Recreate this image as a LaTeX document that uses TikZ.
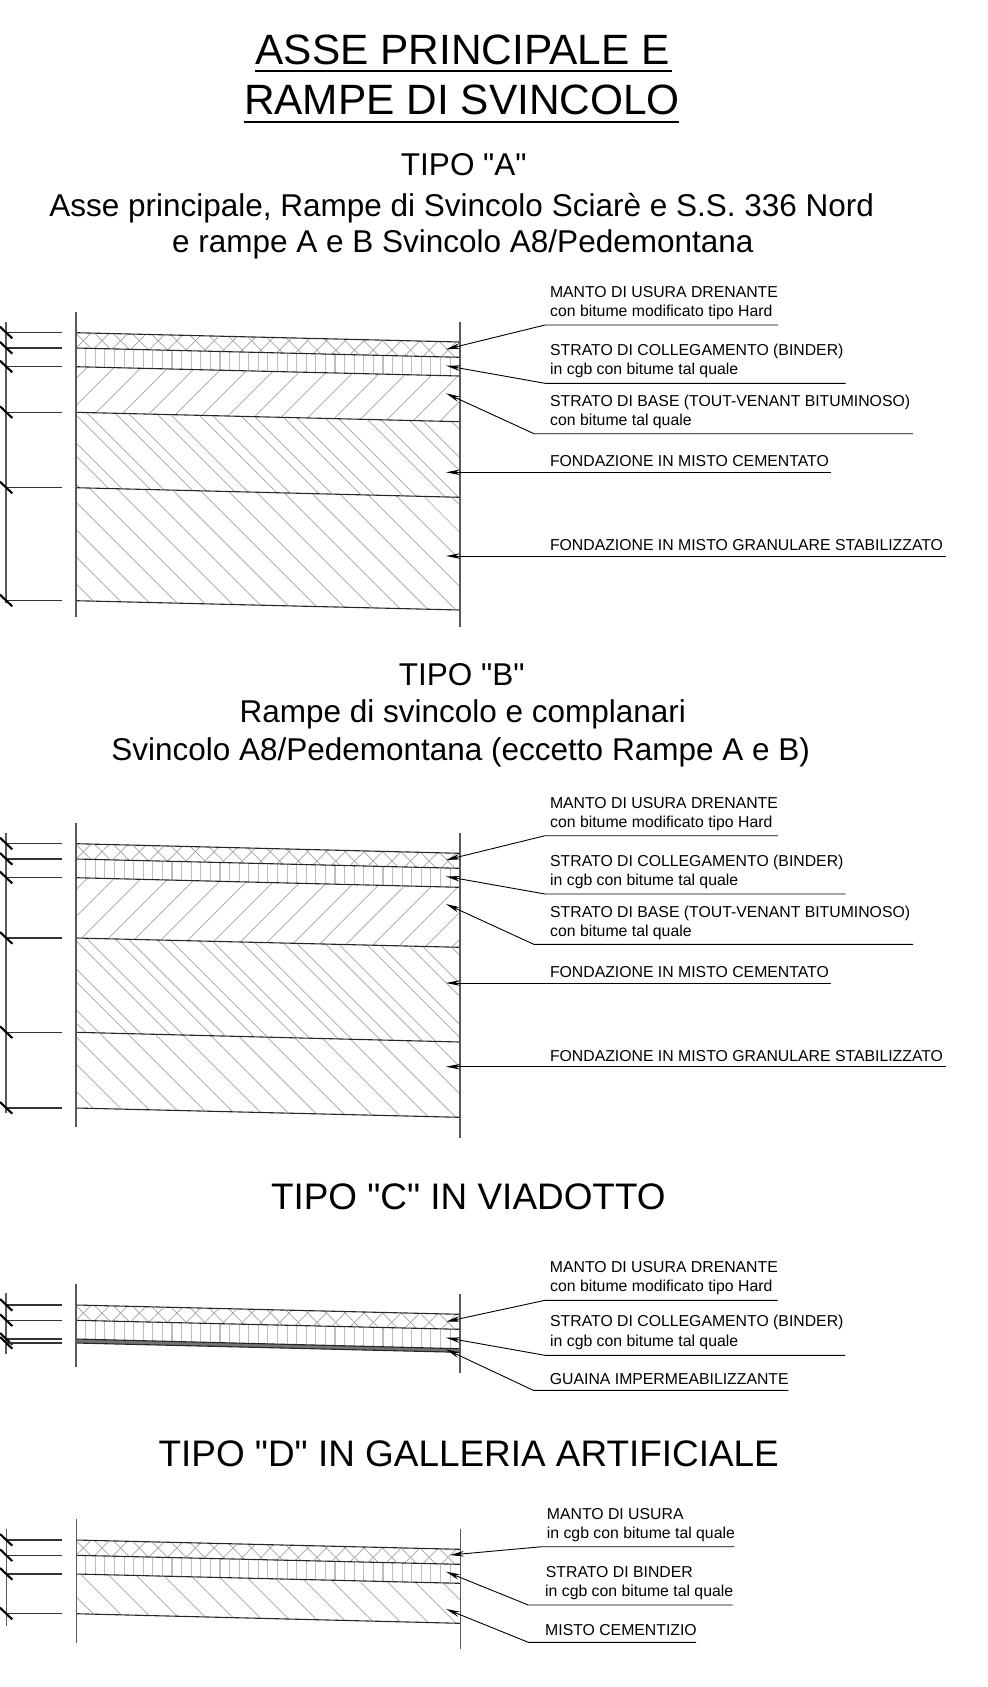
\documentclass[tikz,border=0pt]{standalone}
\usepackage{fontspec}
\defaultfontfeatures[\rmfamily]{}
\setmainfont{Liberation Sans}
\usetikzlibrary{calc}
\usetikzlibrary{arrows.meta}

\tikzset{
  wallline/.style={line width=1.3pt,black!65},
  stratumline/.style={line width=1.1pt,black!85},
  hatchline/.style={line width=0.7pt,black!36},
  vertline/.style={line width=1.1pt,black!26},
  dimline/.style={line width=1.2pt,black!80},
  dimtick/.style={line width=2.1pt,black},
  leaderline/.style={line width=0.9pt,black,{Stealth[length=14pt,width=5.5pt]}-},
  underline/.style={line width=1pt,black},
  titlelabel/.style={inner sep=0pt,anchor=base,font=\fontsize{42.4}{44}\selectfont},
  headlabel/.style={inner sep=0pt,anchor=base,font=\fontsize{31.5}{34}\selectfont},
  typelabel/.style={inner sep=0pt,anchor=base,font=\fontsize{36.9}{40}\selectfont},
  notelabel/.style={inner sep=0pt,anchor=base west,font=\fontsize{15.8}{18}\selectfont}
}

% Crossed hatch of the wearing course
\newcommand{\hatchcross}[4]{%
  \begin{scope}
    \clip (76,#1) -- (460,#3) -- (460,#4) -- (76,#2) -- cycle;
    \foreach \k in {-1,...,22} {
      \draw [hatchline] (76,#1+0.7-18.7*\k) -- (460,#1+384.7-18.7*\k);
      \draw [hatchline] (76,#1+15.3+18.7*\k) -- (460,#1-368.7+18.7*\k);
    }
  \end{scope}}
% Vertical hatch of the binder course
\newcommand{\hatchvert}[4]{%
  \begin{scope}
    \clip (76,#1) -- (460,#3) -- (460,#4) -- (76,#2) -- cycle;
    \foreach \k in {0,...,38}
      \draw [vertline] (85.7+9.59*\k,#1-2) -- (85.7+9.59*\k,#4+2);
  \end{scope}}
% Rising hatch of the base course
\newcommand{\hatchup}[4]{%
  \begin{scope}
    \clip (76,#1) -- (460,#3) -- (460,#4) -- (76,#2) -- cycle;
    \foreach \k in {0,...,17}
      \draw [hatchline] (76,#1+11.8+27.1*\k) -- (460,#1-372.2+27.1*\k);
  \end{scope}}
% Falling hatch in pairs of the cement foundation
\newcommand{\hatchtwin}[4]{%
  \begin{scope}
    \clip (76,#1) -- (460,#3) -- (460,#4) -- (76,#2) -- cycle;
    \foreach \k in {-3,...,9} {
      \draw [hatchline] (76,#1-10.5-41*\k) -- (460,#1+373.5-41*\k);
      \draw [hatchline] (76,#1-38.5-41*\k) -- (460,#1+345.5-41*\k);
    }
  \end{scope}}
% Falling hatch, measured from the lower left corner
\newcommand{\hatchdown}[4]{%
  \begin{scope}
    \clip (76,#1) -- (460,#3) -- (460,#4) -- (76,#2) -- cycle;
    \foreach \k in {0,...,18}
      \draw [hatchline] (76,#2-17-27.2*\k) -- (460,#2+367-27.2*\k);
  \end{scope}}
% Dimension rows on the left
\newcommand{\dimrows}[2]{%
  \foreach \dimy [count=\i] in {#2} {
    \coordinate (#1dimstart\i) at (6,\dimy);
    \coordinate (#1dimend\i) at (61.7,\dimy);
    \draw [dimline] (#1dimstart\i) -- (#1dimend\i);
    \draw [dimtick] ($(#1dimstart\i)+(-6,-6)$) -- ($(#1dimstart\i)+(6.3,5.7)$);
  }}
% The five notes of the types A and B
\newcommand{\fivenotes}[2]{%
  \begin{scope}[shift={(0,#2)}]
    \coordinate (#1manto tip) at (446,349.3);
    \coordinate (#1manto kink) at (545,325);
    \coordinate (#1manto end) at (778,325);
    \draw [leaderline] (#1manto tip) -- (#1manto kink) -- (#1manto end);
    \node [notelabel] (#1manto) at (549.8,297.3) {MANTO DI USURA DRENANTE};
    \node [notelabel] (#1mantob) at (550,316.6) {con bitume modificato tipo Hard};
    \coordinate (#1binder tip) at (446,365.7);
    \coordinate (#1binder kink) at (545,383.3);
    \coordinate (#1binder end) at (845.5,383.3);
    \draw [leaderline] (#1binder tip) -- (#1binder kink) -- (#1binder end);
    \node [notelabel] (#1binder) at (550,355.7) {STRATO DI COLLEGAMENTO (BINDER)};
    \node [notelabel] (#1binderb) at (550,374.6) {in cgb con bitume tal quale};
    \coordinate (#1base tip) at (446,393.3);
    \coordinate (#1base kink) at (534,433.7);
    \coordinate (#1base end) at (913,433.7);
    \draw [leaderline] (#1base tip) -- (#1base kink) -- (#1base end);
    \node [notelabel] (#1base) at (550,406.3) {STRATO DI BASE (TOUT-VENANT BITUMINOSO)};
    \node [notelabel] (#1baseb) at (550,425.3) {con bitume tal quale};
    \coordinate (#1cem tip) at (446,472.3);
    \coordinate (#1cem end) at (831,472.3);
    \draw [leaderline] (#1cem tip) -- (#1cem end);
    \node [notelabel] (#1cem) at (549.8,466.3) {FONDAZIONE IN MISTO CEMENTATO};
    \coordinate (#1gran tip) at (446,556);
    \coordinate (#1gran end) at (946,556);
    \draw [leaderline] (#1gran tip) -- (#1gran end);
    \node [notelabel] (#1gran) at (549.8,550.3) {FONDAZIONE IN MISTO GRANULARE STABILIZZATO};
  \end{scope}}

\begin{document}
\begin{tikzpicture}[x=1pt,y=-1pt]
\useasboundingbox (0,0) rectangle (988,1687);

% Titles
\node [titlelabel] (title1) at (462.6,64.3) {ASSE PRINCIPALE E};
\node [titlelabel] (title2) at (462,114) {RAMPE DI SVINCOLO};
\coordinate (title1start) at (255,71.3);
\coordinate (title1end) at (671.7,71.3);
\coordinate (title2start) at (243.7,122.3);
\coordinate (title2end) at (679.3,122.3);
\draw [line width=2pt] (title1start) -- (title1end);
\draw [line width=2pt] (title2start) -- (title2end);

% Type A
\node [headlabel] (tipoa) at (463.8,175) {TIPO "A"};
\node [headlabel] (tipoa2) at (461.7,216) {Asse principale, Rampe di Svincolo Sciarè e S.S. 336 Nord};
\node [headlabel] (tipoa3) at (462.8,252) {e rampe A e B Svincolo A8/Pedemontana};

\hatchcross{332.7}{348}{342}{357.3}
\hatchvert{348}{366.7}{357.3}{376}
\hatchup{366.7}{412.3}{376}{421.7}
\hatchtwin{412.3}{487.7}{421.7}{497.3}
\hatchdown{487.7}{600.7}{497.3}{610}

% Layer lines A
\draw [stratumline] (76,332.7) -- (460,342);
\draw [stratumline] (76,348) -- (460,357.3);
\draw [stratumline] (76,366.7) -- (460,376);
\draw [stratumline] (76,412.3) -- (460,421.7);
\draw [stratumline] (76,487.7) -- (460,497.3);
\draw [stratumline] (76,600.7) -- (460,610);

% Walls A
\draw [wallline] (76,312) -- (76,617);
\draw [wallline] (460,322) -- (460,627);
\draw [wallline] (6,322) -- (6,603);
\dimrows{a}{332.7,348,366.7,412.3,487.7,600.7}
\fivenotes{a}{0}

% Type B
\node [headlabel] (tipob) at (461.7,685.5) {TIPO "B"};
\node [headlabel] (tipob2) at (462.8,722) {Rampe di svincolo e complanari};
\node [headlabel] (tipob3) at (460.6,760) {Svincolo A8/Pedemontana (eccetto Rampe A e B)};

\hatchcross{843.7}{859}{853.3}{868.3}
\hatchvert{859}{877.7}{868.3}{887.3}
\hatchup{877.7}{938}{887.3}{947.3}
\hatchtwin{938}{1032.3}{947.3}{1042}
\hatchdown{1032.3}{1108}{1042}{1117.3}

% Layer lines B
\draw [stratumline] (76,843.7) -- (460,853.3);
\draw [stratumline] (76,859) -- (460,868.3);
\draw [stratumline] (76,877.7) -- (460,887.3);
\draw [stratumline] (76,938) -- (460,947.3);
\draw [stratumline] (76,1032.3) -- (460,1042);
\draw [stratumline] (76,1108) -- (460,1117.3);

% Walls B
\draw [wallline] (76,823.3) -- (76,1126.7);
\draw [wallline] (460,833.3) -- (460,1137.7);
\draw [wallline] (6,832.7) -- (6,1113);
\dimrows{b}{843.7,859,877.7,938,1032.3,1108}
\fivenotes{b}{510.7}

% Type C
\node [typelabel] (tipoc) at (468.3,1209.7) {TIPO "C" IN VIADOTTO};

\hatchcross{1305}{1320.3}{1314.3}{1329.3}
\hatchvert{1320.3}{1339}{1329.3}{1348.7}
\fill [black!55] (76,1339) -- (460,1348.7) -- (460,1352.3) -- (76,1343) -- cycle;

% Layer lines C
\draw [stratumline] (76,1305) -- (460,1314.3);
\draw [stratumline] (76,1320.3) -- (460,1329.3);
\draw [stratumline] (76,1339) -- (460,1348.7);
\draw [stratumline] (76,1343) -- (460,1352.3);

% Walls C
\draw [wallline] (76,1284.3) -- (76,1366.7);
\draw [wallline] (460,1294) -- (460,1373);
\draw [wallline] (6,1293) -- (6,1354);
\dimrows{c}{1305,1320.3,1339,1343}

% Notes C
\coordinate (cmanto tip) at (446,1321.7);
\coordinate (cmanto kink) at (545,1300.3);
\coordinate (cmanto end) at (777.7,1300.3);
\draw [leaderline] (cmanto tip) -- (cmanto kink) -- (cmanto end);
\node [notelabel] (cmanto) at (549.7,1272.3) {MANTO DI USURA DRENANTE};
\node [notelabel] (cmantob) at (550,1291.6) {con bitume modificato tipo Hard};
\coordinate (cbinder tip) at (446,1337.7);
\coordinate (cbinder kink) at (545,1355.3);
\coordinate (cbinder end) at (845,1355.3);
\draw [leaderline] (cbinder tip) -- (cbinder kink) -- (cbinder end);
\node [notelabel] (cbinder) at (550,1326.9) {STRATO DI COLLEGAMENTO (BINDER)};
\node [notelabel] (cbinderb) at (550,1346.3) {in cgb con bitume tal quale};
\coordinate (cguaina tip) at (446,1349.3);
\coordinate (cguaina kink) at (533.3,1390.3);
\coordinate (cguaina end) at (788.3,1390.3);
\draw [leaderline] (cguaina tip) -- (cguaina kink) -- (cguaina end);
\node [notelabel] (cguaina) at (549.7,1384.5) {GUAINA IMPERMEABILIZZANTE};

% Type D
\node [typelabel] (tipod) at (468.7,1466) {TIPO "D" IN GALLERIA ARTIFICIALE};

\hatchcross{1540}{1555.3}{1549.3}{1564.3}
\hatchvert{1555.3}{1574}{1564.3}{1583.3}
\hatchdown{1574}{1613.7}{1583.3}{1623.3}

% Layer lines D
\draw [stratumline] (76,1540) -- (460,1549.3);
\draw [stratumline] (76,1555.3) -- (460,1564.3);
\draw [stratumline] (76,1574) -- (460,1583.3);
\draw [stratumline] (76,1613.7) -- (460,1623.3);

% Walls D
\draw [wallline] (76.3,1519.3) -- (76.3,1642.7);
\draw [wallline] (460.3,1529.3) -- (460.3,1649.3);
\draw [wallline] (6.5,1529) -- (6.5,1625.7);
\dimrows{d}{1540,1555.3,1574,1613.7}

% Notes D
\coordinate (dmanto tip) at (450,1555);
\coordinate (dmanto kink) at (541.7,1546.7);
\coordinate (dmanto end) at (734.3,1546.7);
\draw [leaderline] (dmanto tip) -- (dmanto kink) -- (dmanto end);
\node [notelabel] (dmanto) at (546.7,1519.6) {MANTO DI USURA};
\node [notelabel] (dmantob) at (546.7,1538.9) {in cgb con bitume tal quale};
\coordinate (dbinder tip) at (446,1571.7);
\coordinate (dbinder kink) at (528.3,1605);
\coordinate (dbinder end) at (732.7,1605);
\draw [leaderline] (dbinder tip) -- (dbinder kink) -- (dbinder end);
\node [notelabel] (dbinder) at (545.7,1577.3) {STRATO DI BINDER};
\node [notelabel] (dbinderb) at (545,1596.6) {in cgb con bitume tal quale};
\coordinate (dmisto tip) at (446,1609);
\coordinate (dmisto kink) at (528.3,1642.3);
\coordinate (dmisto end) at (696,1642.3);
\draw [leaderline] (dmisto tip) -- (dmisto kink) -- (dmisto end);
\node [notelabel] (dmisto) at (545,1635.9) {MISTO CEMENTIZIO};
\end{tikzpicture}
\end{document}
